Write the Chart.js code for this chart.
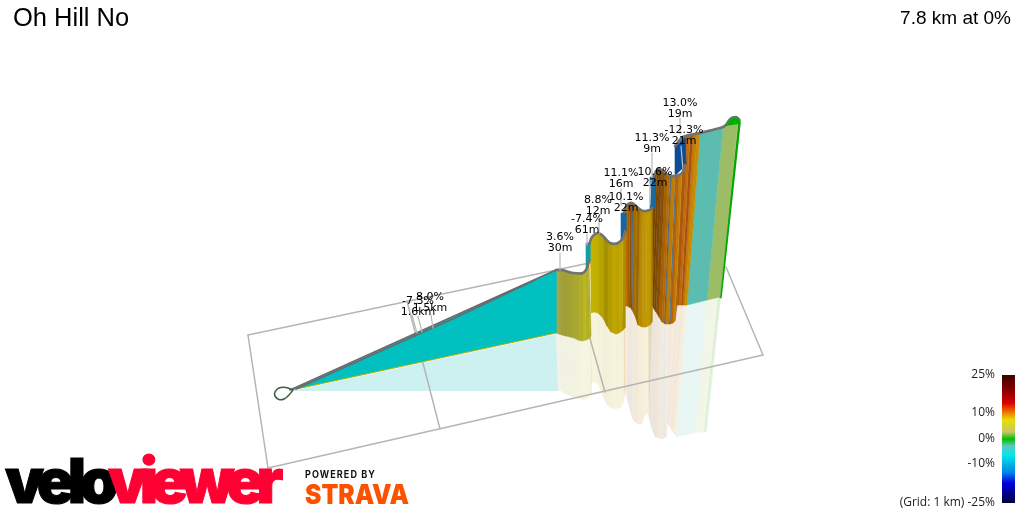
<!DOCTYPE html>
<html><head><meta charset="utf-8">
<style>html,body{margin:0;padding:0;background:#fff}canvas{display:block}</style>
<script src="https://cdn.jsdelivr.net/npm/chart.js@4"></script></head>
<body><canvas id="c" width="1024" height="512"></canvas>
<script>
// Values (projected ribbon stations: [topX, topY, bottomX, bottomY])
const gridLines = [
 [[248,335],[268,468]], [[268,468],[763,355]], [[763,355],[726,267]], [[248,335],[722,235]],
 [[407,301],[440,429]], [[573,278],[605,392]]
];
const sectionTealTop=[[292,390],[556,270]], sectionTealBottom=[[292,390],[556,333]];
const section1=[[556,270,556,333],[559,270,559,334],[562,270,562,335],[566,271,566,336],[570,272,570,337],[574,273,574,338],[578,273,578,340],[582,273,582,341],[585,271,586,340],[588,265,590,338],[589,262,591,335]];
const section1Colors=['#a6a553','#a3a23c','#a0a038','#a2a134','#a5a432','#a9a830','#b0ae2a','#b8b624','#b3b020','#a8a620'];
const section1Reflect=[[558,390],[561,391],[564,393],[568,395],[572,397],[576,398],[580,399],[584,400],[588,398],[591,395],[592,392]];
const section2=[[590,243,591,313],[594,235,594,312],[598,233,598,313],[603,236,603,318],[607,240,607,326],[611,243,611,332],[616,244,616,334],[620,242,619,333],[623,238,622,331],[625,230,625,328]];
const section2Colors=['#c4b200','#c2ae00','#b8a400','#a59200','#b29c00','#c0a400','#bba000','#c2a600','#a89000'];
const section2Reflect=[[591,383],[594,382],[598,384],[603,397],[607,405],[611,408],[616,409],[620,408],[623,404],[625,395]];
const section3=[[623,213,624,306],[627,205,627,306],[630,204,629,307],[632,203,631,308],[633,204,632,310],[637,207,635,316],[640,209,638,325],[643,211,642,327],[647,211,646,327],[650,210,650,325],[652,208,652,322]];
const section3Colors=['#c06c08','#a85a00','#84540c','#3e6478','#a86a00','#9a6a00','#b88a00','#c29600','#c09a00','#b08800'];
const section3Reflect=[[624,390],[626,395],[628,403],[630,410],[632,418],[634,421],[638,424],[642,424],[645,416],[647,413],[649,418]];
const section4=[[653,177,648,305],[657,170,652,305],[659,170,654,309],[662,170,656,312],[665,172,659,317],[668,175,662,322],[670,176,664,323],[671,176,665,324],[675,176,669,324],[676,176,670,324],[679,175,673,323],[682,173,675,321],[685,165,677,305]];
const section4Colors=['#7c4400','#7a4400','#7a4a08','#8a5000','#a86000','#b46a00','#2f6290','#c07a00','#38689a','#b86400','#c47e00','#a85a10'];
const section4Reflect=[[649,418],[651,427],[653,432],[655,437],[658,438],[661,439],[663,439],[665,438],[667,437],[667,430],[667,426],[667,424],[667,423]];
const section5=[[684,137,677,305],[687,136,679,305],[690,135.5,681,305],[693,135,683,305],[697,134,685,305],[700,133,687,305]];
const section5Colors=['#b4520c','#c06c08','#a85010','#c67e02','#c68c00'];
const section5Reflect=[[667,423],[669,426],[671,429],[673,432],[675,435],[676,437]];
const sectionWall=[[700,133,687,305],[723,127,707,300],[738,121,720,297]];
const sectionWallColors=['#5cbcb0','#9dbc66'];
const sectionWallReflect=[[676,437],[695,433],[705,432]];
const backStrip1=[[586,268],[586,243],[590,243],[590,262]];
const backStrip2=[[621,240],[621,213],[626,213],[626,232]];
const backStrip3=[[650,210],[650,177],[655,177],[655,208]];
const backStrip4=[[675,176],[675,147],[685,137],[686,165]];
const backStripColors=['#10a0a8','#1268a6','#1a6aa0','#0c4c94'];
const wallStreaks=[[[681,146],[683,170]],[[627,214],[628,300]],[[672,178],[666,300]],[[651,180],[650,205]]];
const topLine1=[[556,270],[562,270],[573,273],[583,273],[587,268],[589,260]];
const topLine2=[[589,245],[592,237],[598,233],[603,236],[610,243],[618,243],[623,238],[625,232]];
const topLine3=[[624,212],[627,205],[632,203],[637,207],[643,211],[650,210],[652,208]];
const topLine4=[[653,178],[657,170],[662,170],[668,175],[675,176],[682,173],[685,165]];
const topLine5=[[675,146],[683,137],[700,133],[723,127],[727,124]];
const startLines=[[[290,390],[556,270]],[[296,389],[457,317],[535,280]]];
const loopPath=[[293,390],[286,387.5],[279,388],[275,392],[275,396],[279,399.5],[284,399],[289,395],[293,390]];
const greenBlob=[[725,126],[728,120],[732,117],[737,117],[740,120],[739,124]];
const blobOutline=[[727,124],[730,119],[733,117],[737,117],[740,120]];
const greenEdge=[[739.5,122],[720.5,297]];
const greenEdgeReflect=[[718,298],[721,298],[707,431],[704,432]];
const reflectTeal=[[292,391],[556,334],[558,391]];
const reflectColorTeal='#cdf1f0';
const reflectAlpha=0.14;
const legendStops=[[375,'#3c0000'],[390,'#8a0000'],[403,'#d80000'],[413,'#f08000'],[420,'#e8e000'],[432,'#c8c468'],[439,'#00c000'],[446,'#60c8c0'],[455,'#00e8e8'],[473,'#0080e8'],[483,'#0000e0'],[503,'#00003c']];
const legendBox=[[1002,375],[1015,375],[1015,503],[1002,503]];
const legendTexts=[['25%',375],['10%',413],['0%',439],['-10%',464],['(Grid: 1 km) -25%',503]];
const labelTexts=[['-7.3%','1.6km',418,301],['8.0%','1.5km',430,297],['3.6%','30m',560,237],['-7.4%','61m',587,219],['8.8%','12m',598,200],['10.1%','22m',626,197],['11.1%','16m',621,173],['10.6%','22m',655,172],['11.3%','9m',652,138],['-12.3%','21m',684,130],['13.0%','19m',680,103]];
const leaders=[[[412,315],[417,333]],[[418,316],[422,332]],[[431,315],[433,328]],[[560,253],[560,270]],[[587,234],[587,245]],[[599,216],[599,234]],[[621,189],[621,205]],[[652,153],[652,178]],[[680,118],[680,134]]];

const P=a=>a.map(p=>({x:p[0],y:p[1]}));
const sets=[];
function poly(pts,color,bw){sets.push({type:'scatter',showLine:true,data:P(pts),backgroundColor:color,borderColor:color,borderWidth:bw===undefined?.6:bw,pointRadius:0,fill:'shape',tension:0,clip:false});}
function line(pts,color,w,t){sets.push({type:'scatter',showLine:true,data:P(pts),borderColor:color,borderWidth:w,pointRadius:0,fill:false,tension:t||0,clip:false,borderCapStyle:'round',borderJoinStyle:'round'});}
function ribbon(st,cols){for(let i=st.length-2;i>=0;i--){poly([[st[i][0],st[i][1]],[st[i+1][0],st[i+1][1]],[st[i+1][2],st[i+1][3]],[st[i][2],st[i][3]]],cols[i]);}}
function fade(hex){const n=parseInt(hex.slice(1),16);return `rgba(${n>>16},${(n>>8)&255},${n&255},${reflectAlpha})`;}
function reflect(st,low,cols){for(let i=st.length-2;i>=0;i--){poly([[st[i][2],st[i][3]],[st[i+1][2],st[i+1][3]],low[i+1],low[i]],fade(cols[i]),0);}}
// reflections
poly(reflectTeal,reflectColorTeal,0);
reflect(sectionWall,sectionWallReflect,sectionWallColors);
poly(greenEdgeReflect,'rgba(0,168,0,0.1)',0);
reflect(section5,section5Reflect,section5Colors);
reflect(section4,section4Reflect,section4Colors);
reflect(section3,section3Reflect,section3Colors);
reflect(section2,section2Reflect,section2Colors);
reflect(section1,section1Reflect,section1Colors);
// grid
gridLines.forEach(g=>line(g,'#b5b5b5',1.5));
// wall, far to near
line(greenEdge,'#00a800',2.6);
ribbon(sectionWall,sectionWallColors);
ribbon(section5,section5Colors);
poly(backStrip4,backStripColors[3]);
line(wallStreaks[0],'#c0c0c0',1.2);
line(topLine5,'#707274',2.6,.3);
sets.push({type:'scatter',showLine:true,data:P(greenBlob),backgroundColor:'#00b000',borderColor:'#00b000',borderWidth:.5,pointRadius:0,fill:'shape',tension:.4,clip:false});
line(blobOutline,'#707274',1.6,.4);
ribbon(section4,section4Colors);
poly(backStrip3,backStripColors[2]);
line(wallStreaks[3],'#c8c8c8',1);
line(topLine4,'#707274',2.6,.35);
ribbon(section3,section3Colors);
poly(backStrip2,backStripColors[1]);
line(topLine3,'#707274',2.6,.35);
ribbon(section2,section2Colors);
poly(backStrip1,backStripColors[0]);
line(topLine2,'#707274',2.6,.35);
ribbon(section1,section1Colors);
line(topLine1,'#707274',2.6,.35);
poly([sectionTealTop[0],sectionTealTop[1],sectionTealBottom[1]],'#00c0c0');
line(sectionTealBottom,'#b0b000',1);
startLines.forEach(l=>line(l,'#686a6c',1.6));
line(loopPath,'#3c6044',1.6,.4);
leaders.forEach(l=>line(l,'#b8b8b8',1.2));
// legend bar
sets.push({type:'scatter',showLine:true,data:P(legendBox),pointRadius:0,fill:'shape',borderWidth:0,clip:false,
 backgroundColor:c=>{const ca=c.chart,y=ca.scales.y,a=y?y.getPixelForValue(375):NaN,b=y?y.getPixelForValue(503):NaN;
  if(!isFinite(a)||!isFinite(b))return legendStops[0][1];
  const g=ca.ctx.createLinearGradient(0,a,0,b);
  legendStops.forEach(s=>g.addColorStop((s[0]-375)/128,s[1]));return g;}});
sets.forEach((d,i)=>{d.order=-i;});

const textPlugin={id:'texts',afterDraw(ch){
 const c=ch.ctx,X=v=>ch.scales.x.getPixelForValue(v),Y=v=>ch.scales.y.getPixelForValue(v);
 c.save();c.textBaseline='middle';
 c.fillStyle='#000';
 c.font='25.5px "Liberation Sans"';c.textAlign='left';c.fillText('Oh Hill No',X(13),Y(19));
 c.font='19px "Liberation Sans"';c.textAlign='right';c.fillText('7.8 km at 0%',X(1011),Y(19));
 c.font='12px "Open Sans"';c.fillStyle='#222';
 legendTexts.forEach(t=>c.fillText(t[0],X(995),Y(t[1])));
 c.fillStyle='#000';c.font='11px "DejaVu Sans"';c.textAlign='center';
 labelTexts.forEach(t=>{c.fillText(t[0],X(t[2]),Y(t[3]));c.fillText(t[1],X(t[2]),Y(t[3]+11));});
 // brand
 c.textAlign='left';c.textBaseline='alphabetic';
 c.letterSpacing='-6.5px';
 c.font='900 62px Inter';c.lineWidth=1;c.fillStyle=c.strokeStyle='#000';
 c.fillText('velo',X(5),Y(503));c.strokeText('velo',X(5),Y(503));
 c.letterSpacing='-7.5px';
 c.fillStyle=c.strokeStyle='#ff0033';
 c.fillText('viewer',X(108),Y(503));c.strokeText('viewer',X(108),Y(503));
 c.letterSpacing='1.2px';c.font='bold 10px Inter';c.fillStyle='#111';c.fillText('POWERED BY',X(305),Y(478),71);
 c.letterSpacing='0px';c.font='900 27px Inter';c.fillStyle='#fc5200';c.fillText('STRAVA',X(305),Y(503.5),104);
 c.restore();
}};
new Chart(document.getElementById('c'),{type:'scatter',data:{datasets:sets},plugins:[textPlugin],
 options:{responsive:false,animation:false,devicePixelRatio:1,layout:{padding:0},
  plugins:{legend:{display:false},title:{display:false},tooltip:{enabled:false}},
  scales:{x:{type:'linear',display:false,min:0,max:1024},y:{type:'linear',display:false,min:0,max:512,reverse:true}}}});
</script></body></html>
